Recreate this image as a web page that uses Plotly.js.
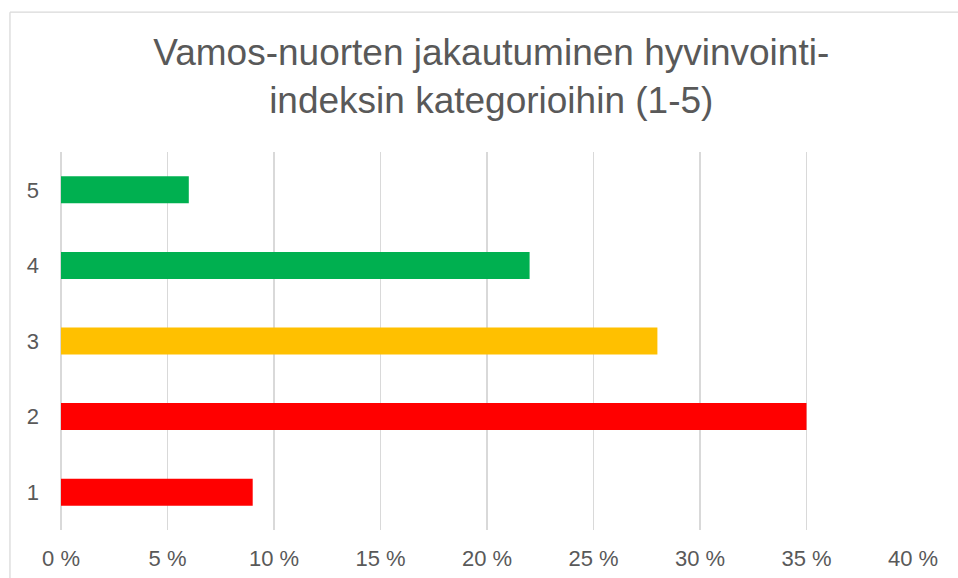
<!DOCTYPE html>
<html>
<head>
<meta charset="utf-8">
<script src="https://cdn.plot.ly/plotly-3.0.1.min.js"></script>
<style>html,body{margin:0;padding:0;background:#fff;}#chart{width:958px;height:578px;}</style>
</head>
<body>
<div id="chart"></div>
<script>
const categories = ['1', '2', '3', '4', '5'];
const values = [9, 35, 28, 22, 6];
const barColors = ['#FF0000', '#FF0000', '#FFC000', '#00B050', '#00B050'];
const tickValues = [0, 5, 10, 15, 20, 25, 30, 35, 40];
const tickLabels = ['0 %', '5 %', '10 %', '15 %', '20 %', '25 %', '30 %', '35 %', '40 %'];
const titleText = 'Vamos-nuorten jakautuminen hyvinvointi-<br>indeksin kategorioihin (1-5)';

const font = 'Liberation Sans, Arial, sans-serif';
const trace = {
  type: 'bar',
  orientation: 'h',
  x: values,
  y: categories,
  width: 0.357,
  marker: {color: barColors},
  hoverinfo: 'none'
};
const layout = {
  width: 958, height: 578,
  margin: {l: 61, r: 45, t: 152, b: 48, pad: 0},
  paper_bgcolor: '#ffffff', plot_bgcolor: '#ffffff',
  showlegend: false,
  title: {
    text: titleText,
    font: {family: font, size: 37, color: '#595959'},
    x: 0.505, xref: 'paper', xanchor: 'center',
    y: 0.888, yref: 'container', yanchor: 'top'
  },
  xaxis: {
    range: [0, 40],
    tickmode: 'array', tickvals: tickValues, ticktext: tickLabels,
    showgrid: true, gridcolor: '#d9d9d9', gridwidth: 1.3,
    zeroline: true, zerolinecolor: '#d9d9d9', zerolinewidth: 1.3,
    showline: false, ticks: '',
    tickfont: {family: font, size: 22, color: '#595959'},
    ticklabelstandoff: 13,
    fixedrange: true
  },
  yaxis: {
    type: 'category',
    range: [-0.5, 4.5],
    showgrid: false, zeroline: false, showline: false, ticks: '',
    tickfont: {family: font, size: 22, color: '#595959'},
    ticklabelstandoff: 21,
    fixedrange: true
  },
  shapes: [
    {type: 'line', xref: 'paper', yref: 'paper', x0: -0.0599, x1: -0.0599, y0: -0.2, y1: 1.37, line: {color: '#d9d9d9', width: 1.3}},
    {type: 'line', xref: 'paper', yref: 'paper', x0: -0.0599, x1: 1.06, y0: 1.37, y1: 1.37, line: {color: '#d9d9d9', width: 1.3}}
  ]
};
Plotly.newPlot('chart', [trace], layout, {displayModeBar: false, staticPlot: true});
</script>
</body>
</html>
